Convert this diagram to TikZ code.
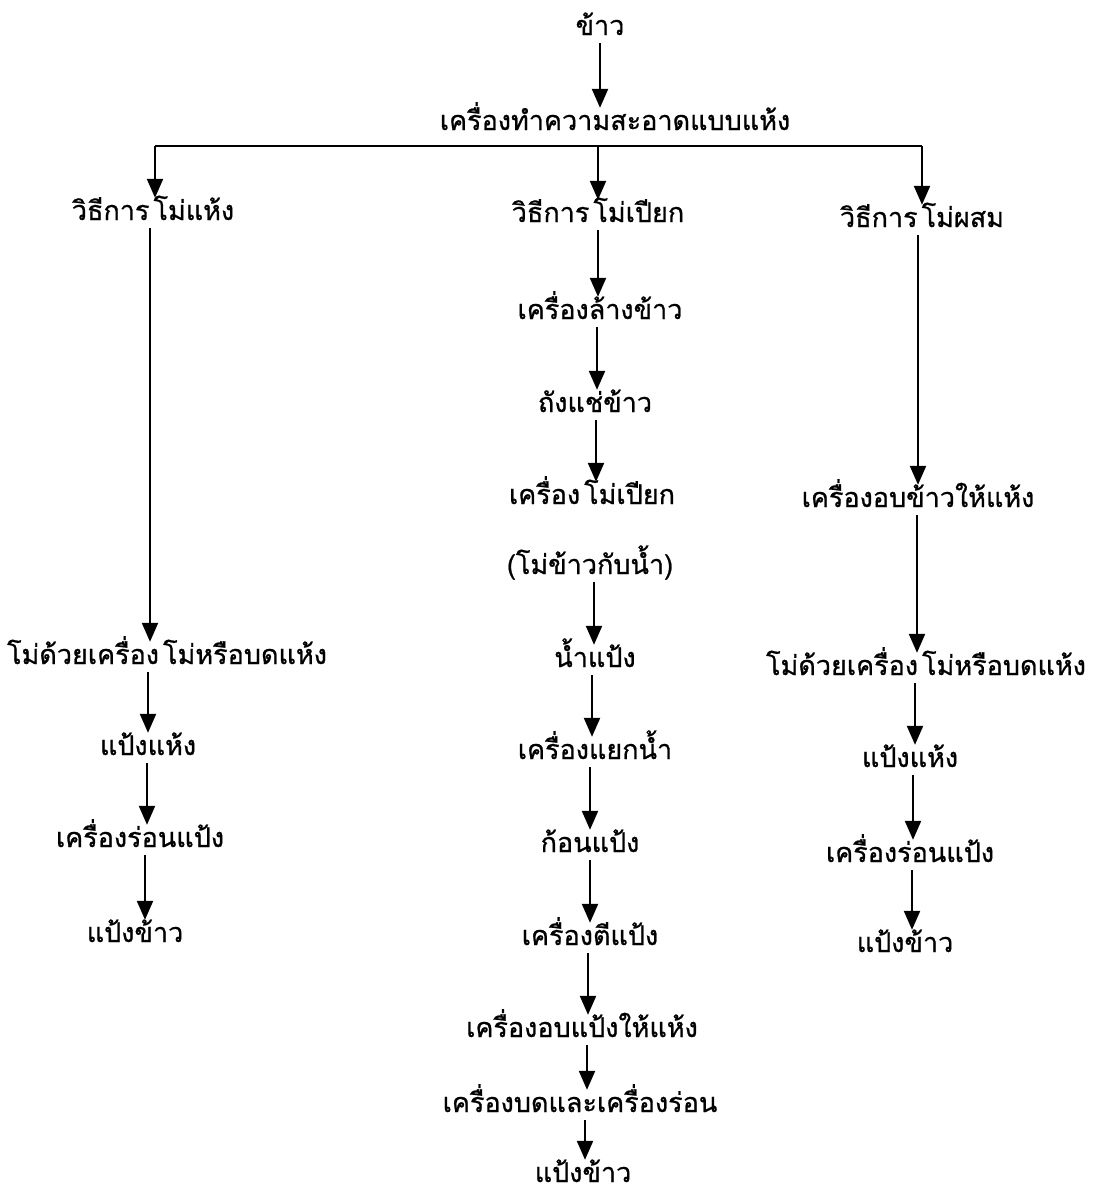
\documentclass[tikz,border=0pt]{standalone}
\usepackage{fontspec}
\newfontfamily\thaifont[Script=Thai,FakeBold=0.8]{Loma}
\usetikzlibrary{arrows.meta}
\newcommand{\tgap}{\hspace{4pt}}
\tikzset{
  lbl/.style={font=\thaifont\fontsize{27}{30}\selectfont, inner sep=0pt, text height=22pt, text depth=8pt},
  arr/.style={line width=2.3pt, -{Triangle[width=16pt,length=19pt]}},
  ln/.style={line width=2.3pt}
}
\begin{document}
\begin{tikzpicture}[x=1pt,y=-1pt]
\useasboundingbox (0,0) rectangle (1096,1194);
% top
\node[lbl] (rice) at (600,28) {ข้าว};
\node[lbl] (clean) at (615,123) {เครื่องทำความสะอาดแบบแห้ง};
\coordinate (bL) at (155,146);
\coordinate (bM) at (598,146);
\coordinate (bR) at (922,146);
% left column
\node[lbl] (l1) at (153,213) {วิธีการ\tgap โม่แห้ง};
\node[lbl] (l2) at (167,657) {โม่ด้วยเครื่อง\tgap โม่หรือบดแห้ง};
\node[lbl] (l3) at (148,748) {แป้งแห้ง};
\node[lbl] (l4) at (140,840) {เครื่องร่อนแป้ง};
\node[lbl] (l5) at (135,935) {แป้งข้าว};
% middle column
\node[lbl] (m1) at (598,215) {วิธีการ\tgap โม่เปียก};
\node[lbl] (m2) at (600,312) {เครื่องล้างข้าว};
\node[lbl] (m3) at (595,405) {ถังแช่ข้าว};
\node[lbl] (m4) at (592,497) {เครื่อง\tgap โม่เปียก};
\node[lbl] (m5) at (590,567) {(โม่ข้าวกับน้ำ)};
\node[lbl] (m6) at (595,660) {น้ำแป้ง};
\node[lbl] (m7) at (595,752) {เครื่องแยกน้ำ};
\node[lbl] (m8) at (590,845) {ก้อนแป้ง};
\node[lbl] (m9) at (590,938) {เครื่องตีแป้ง};
\node[lbl] (m10) at (582,1030) {เครื่องอบแป้งให้แห้ง};
\node[lbl] (m11) at (580,1105) {เครื่องบดและเครื่องร่อน};
\node[lbl] (m12) at (583,1175) {แป้งข้าว};
% right column
\node[lbl] (r1) at (922,220) {วิธีการ\tgap โม่ผสม};
\node[lbl] (r2) at (918,500) {เครื่องอบข้าวให้แห้ง};
\node[lbl] (r3) at (926,668) {โม่ด้วยเครื่อง\tgap โม่หรือบดแห้ง};
\node[lbl] (r4) at (910,760) {แป้งแห้ง};
\node[lbl] (r5) at (910,855) {เครื่องร่อนแป้ง};
\node[lbl] (r6) at (905,945) {แป้งข้าว};
% connectors
\draw[arr] (rice.south -| 600,0) -- (clean.north -| 600,0);
\draw[ln] (bL) -- (bR);
\draw[arr] (bL) -- (l1.north -| bL);
\draw[arr] (bM) -- (m1.north -| bM);
\draw[arr] (bR) -- (r1.north -| bR);
% left
\draw[arr] (l1.south -| 150,0) -- (l2.north -| 150,0);
\draw[arr] (l2.south -| 148,0) -- (l3.north -| 148,0);
\draw[arr] (l3.south -| 147,0) -- (l4.north -| 147,0);
\draw[arr] (l4.south -| 145,0) -- (l5.north -| 145,0);
% middle
\draw[arr] (m1.south -| 598,0) -- (m2.north -| 598,0);
\draw[arr] (m2.south -| 597,0) -- (m3.north -| 597,0);
\draw[arr] (m3.south -| 596,0) -- (m4.north -| 596,0);
\draw[arr] (m5.south -| 594,0) -- (m6.north -| 594,0);
\draw[arr] (m6.south -| 592,0) -- (m7.north -| 592,0);
\draw[arr] (m7.south -| 590,0) -- (m8.north -| 590,0);
\draw[arr] (m8.south -| 590,0) -- (m9.north -| 590,0);
\draw[arr] (m9.south -| 588,0) -- (m10.north -| 588,0);
\draw[arr] (m10.south -| 587,0) -- (m11.north -| 587,0);
\draw[arr] (m11.south -| 585,0) -- (m12.north -| 585,0);
% right
\draw[arr] (r1.south -| 918,0) -- (r2.north -| 918,0);
\draw[arr] (r2.south -| 917,0) -- (r3.north -| 917,0);
\draw[arr] (r3.south -| 915,0) -- (r4.north -| 915,0);
\draw[arr] (r4.south -| 913,0) -- (r5.north -| 913,0);
\draw[arr] (r5.south -| 912,0) -- (r6.north -| 912,0);
\end{tikzpicture}
\end{document}
